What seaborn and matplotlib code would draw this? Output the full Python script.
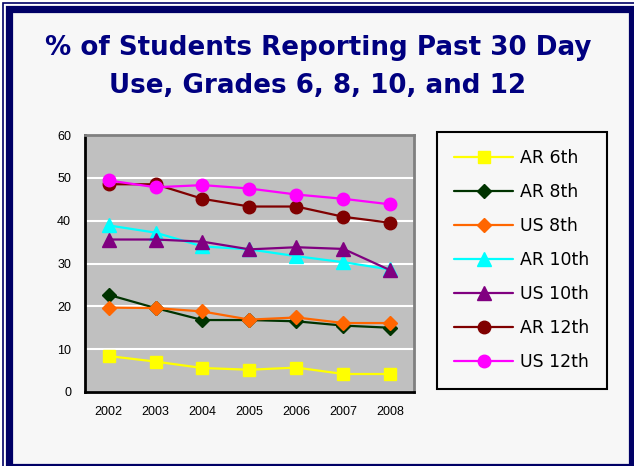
import numpy as np
import pandas as pd
import matplotlib
matplotlib.use("Agg")
import matplotlib.pyplot as plt
import matplotlib.patches as mpatches
import matplotlib.ticker as mticker
import seaborn as sns

years = ["2002", "2003", "2004", "2005", "2006", "2007", "2008"]
ar_6th = [8.4, 7.1, 5.6, 5.2, 5.7, 4.2, 4.2]
ar_8th = [22.7, 19.6, 16.8, 16.8, 16.5, 15.5, 15.0]
us_8th = [19.7, 19.6, 18.8, 16.9, 17.4, 16.1, 16.1]
ar_10th = [38.9, 37.2, 34.0, 33.3, 31.7, 30.3, 28.6]
us_10th = [35.6, 35.6, 35.1, 33.3, 33.8, 33.4, 28.4]
ar_12th = [48.5, 48.5, 45.1, 43.3, 43.3, 40.9, 39.5]
us_12th = [49.4, 47.8, 48.3, 47.5, 46.1, 45.1, 43.8]

series = [
    ("AR 6th", ar_6th, "#ffff00", "s", 9),
    ("AR 8th", ar_8th, "#003300", "D", 7),
    ("US 8th", us_8th, "#ff6600", "D", 7),
    ("AR 10th", ar_10th, "#00ffff", "^", 10),
    ("US 10th", us_10th, "#800080", "^", 10),
    ("AR 12th", ar_12th, "#800000", "o", 9),
    ("US 12th", us_12th, "#ff00ff", "o", 9),
]

sns.set_style("white")
plt.rcParams["font.family"] = ["Liberation Sans", "DejaVu Sans"]
plt.rcParams.update({"text.color": "black", "xtick.color": "black", "ytick.color": "black"})

fig = plt.figure(figsize=(6.34, 4.66), dpi=100, facecolor="white")

# background and navy double border
W, H = 634, 466
def px(x, y):
    return x / W, 1 - y / H

fig.patches.append(mpatches.Rectangle(px(8.5, 466.5), (631.5 - 8.5) / W, (466.5 - 8.5) / H,
                                      transform=fig.transFigure, facecolor="#f7f7f7",
                                      edgecolor="#000066", linewidth=5.2, zorder=-10))
fig.patches.append(mpatches.Rectangle(px(2.5, 470), (640 - 2.5) / W, (470 - 2.5) / H,
                                      transform=fig.transFigure, facecolor="none",
                                      edgecolor="#000066", linewidth=1.2, zorder=-10))

ax = fig.add_axes([85 / W, 1 - 392 / H, (414 - 85) / W, (392 - 135) / H])
ax.set_zorder(5)
ax.set_facecolor("#c0c0c0")

pos = np.arange(len(years))
for name, vals, color, marker, ms in series:
    sns.lineplot(x=pos, y=vals, color=color, marker=marker, markersize=ms,
                 markeredgecolor=color, markeredgewidth=1, linewidth=1.6,
                 label=name, ax=ax)

ax.set_xlim(-0.5, len(years) - 0.5)
ax.set_ylim(0, 60)
ax.yaxis.set_major_locator(mticker.MultipleLocator(10))
ax.grid(axis="y", color="white", linewidth=1.5)
ax.set_axisbelow(True)

ax.xaxis.set_major_locator(mticker.FixedLocator(np.arange(-0.5, len(years), 1.0)))
ax.xaxis.set_major_formatter(mticker.NullFormatter())
ax.xaxis.set_minor_locator(mticker.FixedLocator(pos))
ax.xaxis.set_minor_formatter(mticker.FixedFormatter(years))
ax.tick_params(axis="x", which="major", direction="out", length=5, width=1.5, color="black")
ax.tick_params(axis="x", which="minor", length=0, pad=10, labelsize=9, labelcolor="black")
ax.tick_params(axis="y", direction="out", length=4, width=1.5, color="black", pad=6,
               labelsize=9, labelcolor="black")
ax.set_xlabel("")
ax.set_ylabel("")

for side in ["left", "bottom"]:
    ax.spines[side].set_color("black")
    ax.spines[side].set_linewidth(2)
for side in ["top", "right"]:
    ax.spines[side].set_color("#808080")
    ax.spines[side].set_linewidth(2)

leg = ax.legend(loc="upper left", bbox_to_anchor=px(437, 132), bbox_transform=fig.transFigure,
                borderaxespad=0, prop={"family": "DejaVu Sans", "size": 12.5},
                handlelength=3.4, handletextpad=0.4, labelspacing=0.92, borderpad=1.0,
                frameon=True, fancybox=False, labelcolor="black",
                edgecolor="black", facecolor="#f7f7f7", framealpha=1)
leg.get_frame().set_linewidth(1.5)

fig.text(318 / W, 1 - 67 / H, "% of Students Reporting Past 30 Day\nUse, Grades 6, 8, 10, and 12",
         ha="center", va="center", fontsize=18.8, fontweight="bold", color="#000080",
         family=["DejaVu Sans"], linespacing=1.6)

fig.savefig("out.png", dpi=100, facecolor="white")
